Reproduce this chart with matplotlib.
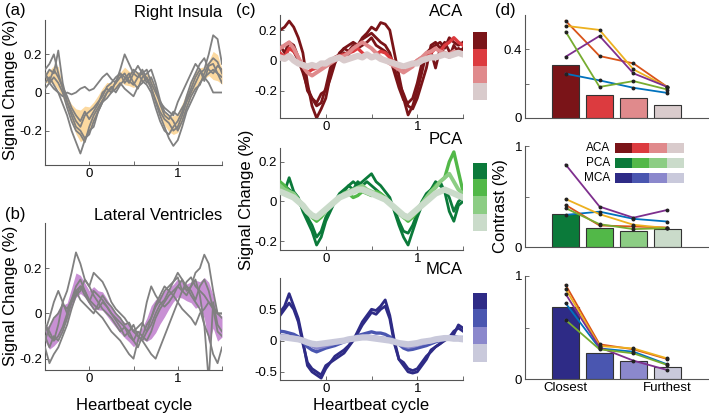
import matplotlib
matplotlib.use("Agg")
import matplotlib.pyplot as plt
import numpy as np
from matplotlib.colors import ListedColormap

plt.rcParams['font.family'] = ['Liberation Sans', 'DejaVu Sans']

# heartbeat phase grid (shared by all traces)
phase = [-0.5, -0.45, -0.4, -0.35, -0.3, -0.25, -0.2, -0.15, -0.1, -0.05, 0.0,
         0.05, 0.1, 0.15, 0.2, 0.25, 0.3, 0.35, 0.4, 0.45, 0.5, 0.55, 0.6, 0.65,
         0.7, 0.75, 0.8, 0.85, 0.9, 0.95, 1.0, 1.05, 1.1, 1.15, 1.2, 1.25, 1.3,
         1.35, 1.4, 1.45, 1.5]

# (a) right insula, one trace per subject
insula = [
    [0.08, 0.12, 0.10, 0.22, 0.05, -0.05, -0.12, -0.18, -0.20, -0.24, -0.22, -0.15, -0.10, -0.05, 0.00, 0.02, 0.05, 0.08, 0.10, 0.06, 0.04, 0.08, 0.12, 0.07, 0.02, -0.04, -0.10, -0.14, -0.16, -0.20, -0.18, -0.12, -0.05, 0.00, 0.05, 0.10, 0.12, 0.20, 0.30, 0.28, 0.15],
    [0.10, 0.05, 0.02, 0.00, -0.02, 0.00, -0.01, 0.00, 0.02, 0.03, 0.01, 0.02, 0.05, 0.08, 0.10, 0.07, 0.05, 0.12, 0.20, 0.15, 0.10, 0.08, 0.10, 0.12, 0.05, 0.00, -0.05, -0.08, -0.10, -0.12, -0.05, 0.00, 0.05, 0.10, 0.15, 0.12, 0.08, 0.05, 0.00, 0.00, 0.00],
    [0.05, 0.08, 0.04, 0.00, -0.06, -0.12, -0.20, -0.26, -0.32, -0.25, -0.20, -0.18, -0.10, -0.05, -0.03, 0.00, 0.02, 0.05, 0.02, 0.00, -0.02, 0.03, 0.05, 0.08, 0.03, -0.05, -0.12, -0.18, -0.24, -0.28, -0.25, -0.18, -0.10, -0.05, 0.00, 0.05, 0.08, 0.10, 0.12, 0.10, 0.08],
    [0.12, 0.15, 0.20, 0.10, 0.02, -0.05, -0.10, -0.15, -0.18, -0.12, -0.10, -0.08, -0.05, -0.02, 0.03, 0.05, 0.08, 0.10, 0.05, 0.08, 0.12, 0.10, 0.06, 0.04, 0.00, -0.08, -0.15, -0.20, -0.22, -0.18, -0.15, -0.10, -0.02, 0.05, 0.10, 0.15, 0.18, 0.12, 0.10, 0.14, 0.12],
    [0.02, 0.05, 0.08, 0.05, 0.00, -0.08, -0.15, -0.20, -0.22, -0.26, -0.18, -0.12, -0.08, -0.04, 0.00, 0.03, 0.00, 0.04, 0.07, 0.10, 0.05, 0.02, 0.08, 0.10, 0.12, 0.05, -0.04, -0.10, -0.12, -0.15, -0.20, -0.15, -0.08, -0.02, 0.02, 0.04, 0.10, 0.15, 0.18, 0.16, 0.10],
    [0.10, 0.06, 0.12, 0.08, 0.03, -0.02, -0.08, -0.12, -0.15, -0.10, -0.14, -0.10, -0.06, 0.00, 0.02, 0.00, 0.06, 0.10, 0.08, 0.05, 0.10, 0.14, 0.10, 0.05, 0.08, 0.02, -0.06, -0.12, -0.14, -0.10, -0.12, -0.08, -0.04, 0.02, 0.08, 0.12, 0.06, 0.14, 0.15, 0.10, 0.05],
]

# (b) lateral ventricles
ventricles = [
    [-0.05, -0.10, -0.12, -0.05, 0.05, 0.10, 0.18, 0.27, 0.22, 0.15, 0.12, 0.08, 0.05, 0.02, 0.00, -0.02, -0.05, -0.08, -0.06, -0.10, -0.12, -0.08, -0.10, -0.12, -0.08, -0.02, 0.02, 0.05, 0.08, 0.10, 0.12, 0.15, 0.10, 0.12, 0.18, 0.20, 0.26, 0.22, 0.10, 0.00, 0.00],
    [-0.08, -0.02, 0.05, 0.10, 0.05, 0.00, 0.05, 0.10, 0.12, 0.10, 0.05, 0.02, 0.00, -0.02, -0.05, -0.08, -0.10, -0.12, -0.15, -0.18, -0.20, -0.12, -0.05, 0.05, 0.12, 0.08, 0.05, 0.03, 0.05, 0.08, 0.05, 0.02, 0.00, -0.02, -0.05, 0.00, 0.02, 0.05, 0.03, 0.00, 0.00],
    [-0.15, -0.22, -0.18, -0.15, -0.10, -0.05, 0.02, 0.08, 0.10, 0.15, 0.12, 0.18, 0.16, 0.14, 0.10, 0.05, 0.02, 0.00, -0.02, -0.05, -0.08, -0.10, -0.12, -0.15, -0.18, -0.20, -0.15, -0.10, -0.05, 0.00, 0.05, 0.10, 0.12, 0.08, 0.05, 0.02, -0.05, -0.10, -0.18, -0.22, -0.15],
    [-0.10, -0.15, -0.10, -0.12, -0.08, -0.02, 0.05, 0.08, 0.12, 0.08, 0.05, 0.10, 0.08, 0.06, 0.03, 0.00, -0.02, -0.04, -0.06, -0.08, -0.05, -0.10, -0.12, -0.08, -0.02, 0.03, 0.06, 0.10, 0.12, 0.14, 0.16, 0.10, 0.08, 0.12, 0.15, 0.08, -0.05, -0.30, 0.05, -0.05, -0.08],
    [-0.05, -0.08, -0.12, -0.10, -0.06, 0.00, 0.06, 0.12, 0.15, 0.10, 0.06, 0.04, 0.02, 0.05, 0.03, 0.00, -0.03, -0.06, -0.10, -0.08, -0.12, -0.15, -0.10, -0.05, -0.02, 0.04, 0.08, 0.12, 0.10, 0.14, 0.18, 0.15, 0.12, 0.10, 0.06, 0.12, 0.15, 0.10, 0.02, -0.08, -0.10],
    [-0.12, -0.06, -0.02, 0.00, 0.04, 0.02, 0.06, 0.10, 0.06, 0.04, 0.02, 0.00, 0.04, 0.08, 0.05, 0.03, 0.00, -0.02, -0.05, -0.04, -0.08, -0.06, -0.04, -0.08, -0.05, 0.00, 0.04, 0.06, 0.10, 0.08, 0.12, 0.10, 0.14, 0.16, 0.12, 0.10, 0.08, 0.05, 0.02, 0.00, -0.02],
]

# (c) traces per distance level (closest -> furthest)
aca = [
    [[0.20, 0.22, 0.26, 0.22, 0.15, 0.05, -0.15, -0.30, -0.38, -0.32, -0.25, -0.10, 0.00, 0.02, 0.05, 0.04, 0.08, 0.10, 0.15, 0.18, 0.22, 0.20, 0.25, 0.24, 0.20, 0.05, -0.10, -0.25, -0.36, -0.30, -0.20, -0.08, 0.05, 0.08, 0.10, 0.12, 0.08, 0.15, 0.12, 0.10, 0.12],
     [0.10, 0.05, 0.12, 0.10, 0.02, -0.05, -0.20, -0.25, -0.28, -0.22, -0.20, -0.12, -0.02, 0.05, 0.08, 0.10, 0.12, 0.10, 0.14, 0.16, 0.18, 0.15, 0.12, 0.10, 0.05, -0.05, -0.15, -0.22, -0.30, -0.32, -0.25, -0.15, -0.05, 0.10, 0.12, 0.08, 0.05, 0.02, 0.10, 0.05, 0.08],
     [0.08, 0.10, 0.12, 0.06, 0.00, -0.08, -0.18, -0.25, -0.30, -0.28, -0.18, -0.05, 0.02, 0.04, 0.08, 0.06, 0.10, 0.08, 0.10, 0.12, 0.15, 0.10, 0.08, 0.06, 0.02, -0.08, -0.18, -0.26, -0.28, -0.25, -0.15, -0.02, 0.02, 0.06, -0.05, 0.08, 0.12, 0.06, 0.04, 0.08, 0.06]],
    [[0.05, 0.02, 0.08, 0.06, 0.02, -0.04, -0.08, -0.06, -0.05, -0.04, -0.02, 0.00, 0.02, 0.03, 0.04, 0.05, 0.06, 0.08, 0.05, 0.03, 0.02, 0.04, 0.06, 0.05, 0.02, -0.02, -0.05, -0.06, -0.04, -0.02, 0.00, 0.02, 0.04, 0.05, 0.08, 0.06, 0.10, 0.12, 0.15, 0.12, 0.10]],
    [[0.08, 0.10, 0.12, 0.08, 0.02, -0.04, -0.08, -0.10, -0.08, -0.06, -0.04, -0.02, 0.00, 0.02, 0.03, 0.05, 0.08, 0.10, 0.12, 0.10, 0.08, 0.05, 0.02, 0.00, -0.02, -0.04, -0.06, -0.08, -0.06, -0.04, 0.00, 0.02, 0.05, 0.06, 0.08, 0.06, 0.05, 0.04, 0.06, 0.05, 0.04]],
    [[0.02, 0.01, 0.03, 0.00, -0.02, -0.03, -0.04, -0.03, -0.04, -0.02, -0.02, 0.00, 0.01, 0.02, 0.00, 0.01, 0.02, 0.03, 0.02, 0.04, 0.02, 0.03, 0.01, 0.00, -0.01, -0.02, -0.03, -0.04, -0.03, -0.02, -0.02, 0.00, 0.01, 0.02, 0.02, 0.03, 0.04, 0.03, 0.04, 0.05, 0.04]],
]
pca = [
    [[0.08, 0.05, 0.12, 0.05, 0.02, -0.05, -0.10, -0.15, -0.22, -0.18, -0.10, -0.05, 0.00, 0.02, 0.05, 0.08, 0.10, 0.08, 0.10, 0.12, 0.14, 0.10, 0.08, 0.05, 0.02, -0.05, -0.12, -0.18, -0.22, -0.15, -0.08, -0.02, 0.02, 0.06, 0.08, 0.10, 0.05, -0.05, -0.10, -0.02, 0.00],
     [0.05, 0.08, 0.06, 0.04, 0.00, -0.04, -0.08, -0.12, -0.18, -0.15, -0.08, -0.04, 0.00, 0.04, 0.06, 0.08, 0.06, 0.10, 0.08, 0.10, 0.08, 0.06, 0.04, 0.02, 0.00, -0.04, -0.10, -0.15, -0.16, -0.12, -0.06, 0.00, 0.04, 0.06, 0.10, 0.08, 0.06, 0.02, -0.05, 0.00, 0.02]],
    [[0.10, 0.08, 0.05, 0.03, 0.00, -0.03, -0.06, -0.08, -0.10, -0.08, -0.05, -0.02, 0.00, 0.02, 0.03, 0.04, 0.02, 0.03, 0.05, 0.04, 0.03, 0.05, 0.04, 0.02, 0.00, -0.03, -0.06, -0.08, -0.10, -0.08, -0.05, -0.02, 0.02, 0.05, 0.08, 0.10, 0.12, 0.20, 0.25, 0.15, 0.05]],
    [[0.08, 0.06, 0.05, 0.04, 0.01, -0.02, -0.05, -0.07, -0.08, -0.06, -0.04, -0.02, 0.00, 0.02, 0.04, 0.05, 0.06, 0.07, 0.08, 0.06, 0.05, 0.04, 0.03, 0.01, -0.01, -0.03, -0.06, -0.08, -0.09, -0.07, -0.04, -0.01, 0.02, 0.05, 0.07, 0.10, 0.12, 0.14, 0.10, 0.06, 0.04]],
    [[0.05, 0.04, 0.03, 0.02, 0.00, -0.02, -0.05, -0.07, -0.08, -0.06, -0.04, -0.02, 0.00, 0.02, 0.03, 0.04, 0.05, 0.06, 0.06, 0.05, 0.04, 0.03, 0.02, 0.01, -0.01, -0.03, -0.05, -0.07, -0.08, -0.06, -0.04, -0.02, 0.00, 0.02, 0.04, 0.05, 0.06, 0.05, 0.04, 0.03, 0.02]],
]
mca = [
    [[0.45, 0.55, 0.75, 0.55, 0.35, 0.00, -0.40, -0.50, -0.55, -0.60, -0.45, -0.35, -0.30, -0.25, -0.20, -0.10, 0.00, 0.15, 0.30, 0.40, 0.50, 0.48, 0.55, 0.65, 0.40, 0.00, -0.30, -0.40, -0.50, -0.52, -0.50, -0.40, -0.30, -0.15, -0.10, -0.05, 0.00, 0.05, 0.10, 0.25, 0.20],
     [0.40, 0.50, 0.60, 0.50, 0.30, -0.05, -0.35, -0.45, -0.50, -0.55, -0.40, -0.35, -0.25, -0.20, -0.15, -0.08, 0.02, 0.12, 0.25, 0.35, 0.45, 0.42, 0.50, 0.55, 0.35, -0.05, -0.30, -0.35, -0.45, -0.48, -0.45, -0.35, -0.25, -0.18, -0.10, -0.05, 0.02, 0.05, 0.15, 0.20, 0.15]],
    [[0.15, 0.14, 0.12, 0.10, 0.06, -0.02, -0.10, -0.15, -0.18, -0.15, -0.12, -0.10, -0.08, -0.05, -0.02, 0.00, 0.04, 0.08, 0.10, 0.12, 0.14, 0.12, 0.12, 0.10, 0.06, 0.00, -0.06, -0.12, -0.15, -0.14, -0.12, -0.10, -0.08, -0.05, -0.02, 0.00, 0.02, 0.04, 0.06, 0.05, 0.05]],
    [[0.08, 0.07, 0.06, 0.05, 0.03, 0.00, -0.04, -0.08, -0.12, -0.10, -0.08, -0.06, -0.04, -0.02, 0.00, 0.02, 0.04, 0.05, 0.06, 0.07, 0.06, 0.05, 0.04, 0.03, 0.01, -0.02, -0.05, -0.08, -0.10, -0.09, -0.07, -0.05, -0.03, -0.01, 0.01, 0.03, 0.05, 0.06, 0.05, 0.04, 0.04]],
    [[0.05, 0.05, 0.04, 0.03, 0.02, 0.00, -0.03, -0.05, -0.06, -0.05, -0.04, -0.03, -0.02, -0.01, 0.00, 0.02, 0.03, 0.04, 0.05, 0.05, 0.04, 0.03, 0.02, 0.01, 0.00, -0.02, -0.04, -0.05, -0.06, -0.05, -0.04, -0.02, -0.01, 0.00, 0.02, 0.03, 0.04, 0.04, 0.03, 0.03, 0.02]],
]

# (d) contrast per distance level: group means and subjects
distance = [1, 2, 3, 4]
aca_bar = [0.306, 0.133, 0.117, 0.074]
pca_bar = [0.325, 0.184, 0.160, 0.177]
mca_bar = [0.702, 0.256, 0.178, 0.120]
aca_subj = [[0.258, 0.219, 0.176, 0.146], [0.566, 0.361, 0.318, 0.181], [0.537, 0.513, 0.283, 0.181],
            [0.357, 0.478, 0.260, 0.181], [0.503, 0.181, 0.215, 0.166]]
pca_subj = [[0.318, 0.350, 0.279, 0.252], [0.416, 0.213, 0.203, 0.193], [0.475, 0.325, 0.220, 0.187],
            [0.816, 0.400, 0.290, 0.367], [0.384, 0.226, 0.177, 0.187]]
mca_subj = [[0.735, 0.297, 0.265, 0.142], [0.913, 0.337, 0.288, 0.194], [0.874, 0.320, 0.297, 0.200],
            [0.825, 0.307, 0.178, 0.087], [0.573, 0.288, 0.249, 0.136]]

aca_cols = ['#7A1418', '#DC3B3F', '#E08A8C', '#D9CBCC']
pca_cols = ['#0B7A3A', '#52B848', '#8CCD84', '#CADBCA']
mca_cols = ['#2E2B86', '#4A56B0', '#8B88CC', '#C9C9DB']
subj_cols = ['#0072BD', '#D95319', '#EDB120', '#7E2F8E', '#77AC30']

W, H = 709, 415
fig = plt.figure(figsize=(W / 100, H / 100), dpi=100)


def box(x0, y0, x1, y1):
    # pixel box -> figure fraction rect
    return [x0 / W, 1 - y1 / H, (x1 - x0) / W, (y1 - y0) / H]


def style(ax):
    for s in ['top', 'right']:
        ax.spines[s].set_visible(False)
    for s in ['left', 'bottom']:
        ax.spines[s].set_color('#555555')
        ax.spines[s].set_linewidth(0.8)
    ax.tick_params(direction='in', length=3, width=0.6, colors='#555555',
                   labelcolor='black', labelsize=9.5, pad=2)


def trace_axes(ax, ylim, yticks):
    style(ax)
    ax.set_xlim(-0.5, 1.5)
    ax.set_ylim(*ylim)
    ax.set_xticks([-0.5, 0, 0.5, 1, 1.5])
    ax.set_xticklabels(['', '0', '', '1', ''])
    ax.set_yticks(yticks)
    ax.set_yticklabels([('%g' % t) for t in yticks])


x = np.array(phase)

# (a) and (b)
for rect, traces, band, ylim, title in [
        (box(45, 20, 222, 165), insula, '#FCD9A0', (-0.38, 0.38), 'Right Insula'),
        (box(45, 223, 222, 370), ventricles, '#C890D4', (-0.25, 0.4), 'Lateral Ventricles')]:
    ax = fig.add_axes(rect)
    trace_axes(ax, ylim, [-0.2, 0, 0.2])
    arr = np.array(traces)
    m = arr.mean(axis=0)
    ci = 2 * arr.std(axis=0) / np.sqrt(len(arr))
    for t in traces:
        ax.plot(x, t, color='white', lw=2.4, zorder=1)
    ax.fill_between(x, m - ci, m + ci, color=band, lw=0, zorder=2)
    for t in traces:
        ax.plot(x, t, color='#808080', lw=1.3, zorder=3)
    ax.text(1.0, 1.0, title, transform=ax.transAxes, ha='right', va='bottom', fontsize=12)

fig.text(5 / W, 1 - 11 / H, '(a)', fontsize=12, va='center')
fig.text(5 / W, 1 - 214 / H, '(b)', fontsize=12, va='center')
fig.text(11 / W, 1 - 90 / H, 'Signal Change (%)', rotation=90, fontsize=12, ha='center', va='center')
fig.text(11 / W, 1 - 296 / H, 'Signal Change (%)', rotation=90, fontsize=12, ha='center', va='center')
fig.text(134 / W, 1 - 405 / H, 'Heartbeat cycle', fontsize=12, ha='center', va='center')

# (c)
c_specs = [
    (box(280, 15, 463, 118), box(473, 32, 487, 100), aca, aca_cols, (-0.38, 0.3), [-0.2, 0, 0.2], 'ACA', 12),
    (box(280, 148, 463, 250), box(473, 163, 487, 231), pca, pca_cols, (-0.245, 0.27), [-0.2, 0, 0.2], 'PCA', 139),
    (box(280, 278, 463, 380), box(473, 293, 487, 362), mca, mca_cols, (-0.63, 1.0), [-0.5, 0, 0.5], 'MCA', 270),
]
for rect, crect, groups, cols, ylim, yt, name, ty in c_specs:
    ax = fig.add_axes(rect)
    trace_axes(ax, ylim, yt)
    widths = [2.0, 2.4, 2.8, 4.5]
    for k, (grp, col) in enumerate(zip(groups, cols)):
        for t in grp:
            if k == 0:
                ax.plot(x, t, color='white', lw=3.4, zorder=1)
            ax.plot(x, t, color=col, lw=widths[k], zorder=2 + k)
    fig.text(463 / W, 1 - ty / H, name, fontsize=12, ha='right', va='center')
    cax = fig.add_axes(crect)
    cax.imshow(np.arange(4).reshape(4, 1), cmap=ListedColormap(cols), aspect='auto')
    cax.axis('off')

fig.text(236 / W, 1 - 11 / H, '(c)', fontsize=12, va='center')
fig.text(247 / W, 1 - 200 / H, 'Signal Change (%)', rotation=90, fontsize=12, ha='center', va='center')
fig.text(371 / W, 1 - 405 / H, 'Heartbeat cycle', fontsize=12, ha='center', va='center')

# (d)
d_specs = [
    (box(525, 15, 708, 118), aca_bar, aca_subj, aca_cols, (0, 0.6), [0, 0.2, 0.4], ['0', '', '0.4']),
    (box(525, 146, 708, 247), pca_bar, pca_subj, pca_cols, (0, 1), [0, 0.5, 1], ['0', '', '1']),
    (box(525, 276, 708, 379), mca_bar, mca_subj, mca_cols, (0, 1), [0, 0.5, 1], ['0', '', '1']),
]
for i, (rect, bars, subj, cols, ylim, yt, ytl) in enumerate(d_specs):
    ax = fig.add_axes(rect)
    style(ax)
    ax.bar(distance, bars, width=0.8, color=cols, edgecolor='#333333', linewidth=0.8, zorder=2)
    for vals, col in zip(subj, subj_cols):
        ax.plot(distance, vals, color=col, lw=1.3, zorder=3)
        ax.plot(distance, vals, 'o', color='#222222', ms=1.8, zorder=4)
    ax.set_xlim(-0.2, 5.2)
    ax.set_ylim(*ylim)
    ax.set_yticks(yt)
    ax.set_yticklabels(ytl)
    ax.tick_params(axis='x', length=0)
    if i == 2:
        ax.set_xticks([1, 4])
        ax.set_xticklabels(['Closest', 'Furthest'])
    else:
        ax.set_xticks([])

# colour key in the middle panel
for cols, name, yc in [(aca_cols, 'ACA', 148), (pca_cols, 'PCA', 163), (mca_cols, 'MCA', 178)]:
    fig.text(610 / W, 1 - yc / H, name, fontsize=8.5, ha='right', va='center')
    kax = fig.add_axes(box(615, yc - 5, 684, yc + 5))
    kax.imshow(np.arange(4).reshape(1, 4), cmap=ListedColormap(cols), aspect='auto')
    kax.axis('off')

fig.text(495 / W, 1 - 11 / H, '(d)', fontsize=12, va='center')
fig.text(500 / W, 1 - 206 / H, 'Contrast (%)', rotation=90, fontsize=12, ha='center', va='center')

fig.savefig('out.png', dpi=100)
